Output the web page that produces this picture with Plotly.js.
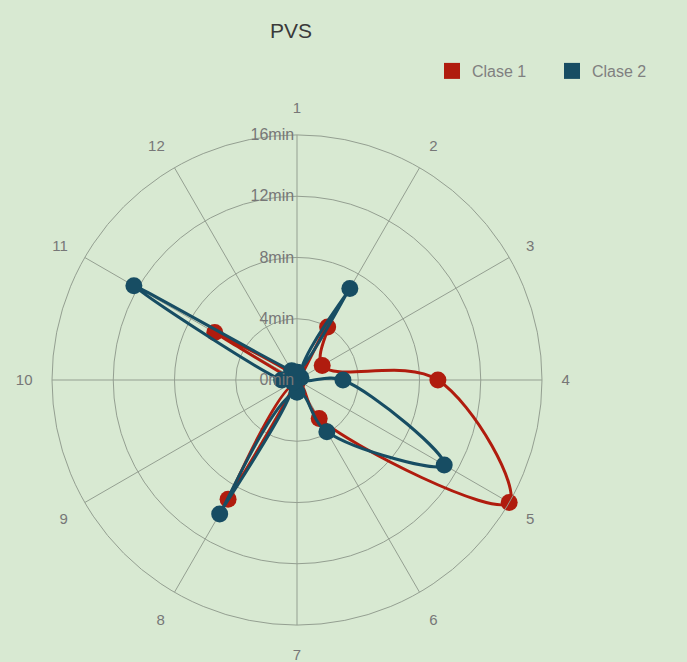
<!DOCTYPE html>
<html>
<head>
<meta charset="utf-8">
<script src="https://cdn.plot.ly/plotly-3.0.1.min.js"></script>
<style>
  html, body { margin: 0; padding: 0; background: #d8e9d2; }
  #chart { width: 687px; height: 662px; }
</style>
</head>
<body>
<div id="chart"></div>
<script>
// Hour slots around the dial
const categories = ['1', '2', '3', '4', '5', '6', '7', '8', '9', '10', '11', '12'];
// Minutes per slot for each class
const clase1 = [0, 4.0, 1.9, 9.2, 16.0, 2.9, 0.2, 9.0, 0.2, 0.3, 6.2, 0.3];
const clase2 = [0.5, 6.9, 0.3, 3.0, 11.1, 3.9, 0.8, 10.1, 0.3, 1.0, 12.3, 0.7];
const seriesNames = ['Clase 1', 'Clase 2'];
const seriesColors = ['#b01c0e', '#174d63'];
const radialTicks = [0, 4, 8, 12, 16];
const radialTickText = ['0min', '4min', '8min', '12min', '16min'];

// close each loop by repeating the first slot
const closeLoop = arr => arr.concat([arr[0]]);
const theta = closeLoop(categories);

const traces = [clase1, clase2].map((vals, i) => ({
  type: 'scatterpolar',
  r: closeLoop(vals),
  theta: theta,
  name: seriesNames[i],
  mode: 'lines+markers',
  line: { color: seriesColors[i], width: 3, shape: 'spline', smoothing: 1.1 },
  marker: { color: seriesColors[i], size: 17 },
  showlegend: false,
  hoverinfo: 'r+theta+name'
}));

// square swatches for the legend
seriesNames.forEach((n, i) => {
  traces.push({
    type: 'scatterpolar',
    r: [null],
    theta: [categories[0]],
    name: n,
    mode: 'markers',
    marker: { color: seriesColors[i], size: 20, symbol: 'square' },
    showlegend: true
  });
});

const gridColor = '#949f91';

const layout = {
  width: 687,
  height: 662,
  paper_bgcolor: '#d8e9d2',
  plot_bgcolor: '#d8e9d2',
  margin: { l: 0, r: 0, t: 0, b: 0 },
  font: { family: 'Liberation Sans, Arial, sans-serif', color: '#777' },
  title: {
    text: 'PVS',
    x: 291 / 687, xanchor: 'center',
    y: 1 - 31 / 662, yanchor: 'middle',
    font: { size: 21, color: '#3a3a3a' }
  },
  legend: {
    orientation: 'h',
    x: 432 / 687, xanchor: 'left',
    y: 1 - 71 / 662, yanchor: 'middle',
    font: { size: 16, color: '#808080' },
    bgcolor: 'rgba(0,0,0,0)',
    entrywidth: 75,
    entrywidthmode: 'pixels',
    itemwidth: 30
  },
  polar: {
    bgcolor: '#d8e9d2',
    domain: { x: [52 / 687, 542 / 687], y: [37 / 662, 527 / 662] },
    angularaxis: {
      type: 'category',
      categoryarray: categories,
      rotation: 90,
      direction: 'clockwise',
      showline: true,
      linecolor: gridColor,
      linewidth: 1,
      gridcolor: gridColor,
      gridwidth: 1,
      ticks: 'outside',
      ticklen: 16,
      tickcolor: 'rgba(0,0,0,0)',
      tickfont: { size: 15, color: '#777' }
    },
    radialaxis: {
      range: [0, 16],
      angle: 90,
      tickangle: 90,
      side: 'counterclockwise',
      tickvals: radialTicks,
      ticktext: radialTickText,
      showline: false,
      ticks: '',
      gridcolor: gridColor,
      gridwidth: 1,
      tickfont: { size: 16, color: '#777' }
    }
  }
};

Plotly.newPlot('chart', traces, layout, { displayModeBar: false, staticPlot: true });
</script>
</body>
</html>
